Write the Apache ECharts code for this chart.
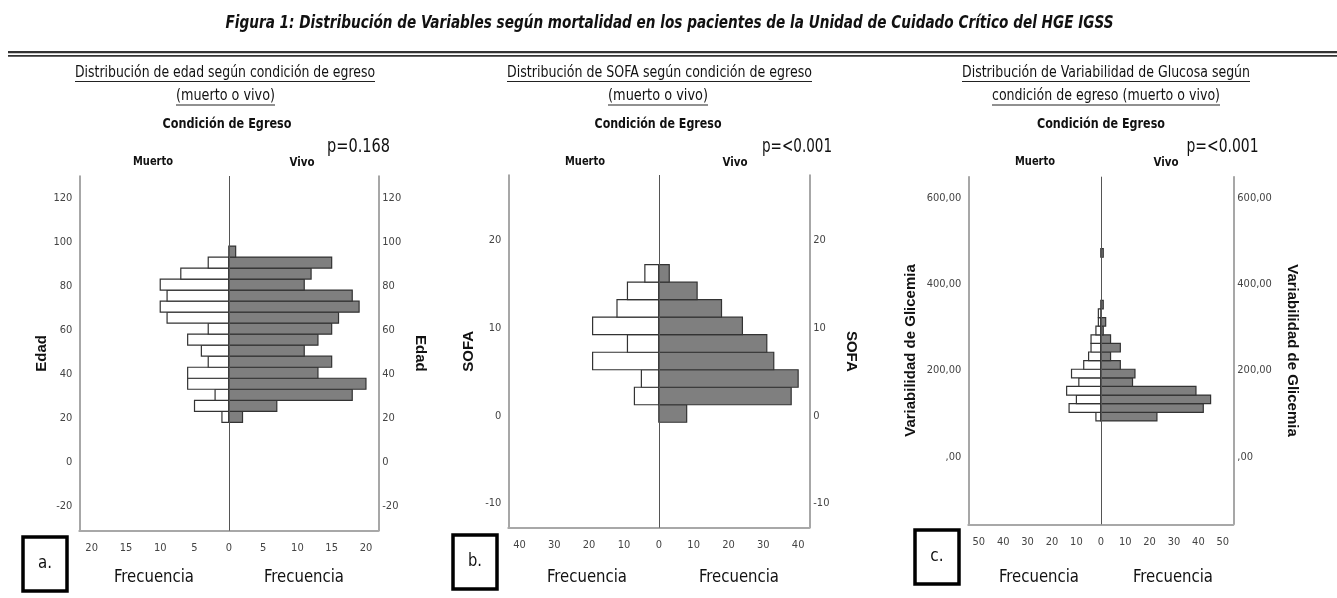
<!DOCTYPE html>
<html><head><meta charset="utf-8">
<script src="https://cdn.jsdelivr.net/npm/echarts@6/dist/echarts.min.js"></script>
<style>html,body{margin:0;padding:0;background:#fff}#c{width:1337px;height:598px}</style>
</head><body><div id="c"></div>
<script>
// ---------- DATA ----------
// Panel a: Edad (age) histogram, bin centres (years) and counts
const edadCenters = [20.7,25.7,30.7,35.7,40.7,45.7,50.7,55.7,60.7,65.7,70.7,75.7,80.7,85.7,90.7,95.7];
const edadMuerto  = [1,5,2,6,6,3,4,6,3,9,10,9,10,7,3,0];
const edadVivo    = [2,7,18,20,13,15,11,13,15,16,19,18,11,12,15,1];
const edadTicksY  = [-20,0,20,40,60,80,100,120];
const edadTicksX  = [-20,-15,-10,-5,0,5,10,15,20];

// Panel b: SOFA histogram
const sofaCenters = [0.25,2.25,4.25,6.25,8.25,10.25,12.25,14.25,16.25];
const sofaMuerto  = [0,7,5,19,9,19,12,9,4];
const sofaVivo    = [8,38,40,33,31,24,18,11,3];
const sofaTicksY  = [-10,0,10,20];
const sofaTicksX  = [-40,-30,-20,-10,0,10,20,30,40];

// Panel c: Variabilidad de Glicemia histogram
const glucCenters = [93,113,133,153,173,193,213,233,253,273,293,313,333,353,373,393,413,433,453,473];
const glucMuerto  = [2,13,10,14,9,12,7,5,4,4,2,1,1,0,0,0,0,0,0,0];
const glucVivo    = [23,42,45,39,13,14,8,4,8,4,1,2,0,1,0,0,0,0,0,1];
const glucTicksY  = [0,200,400,600];
const glucTicksX  = [-50,-40,-30,-20,-10,0,10,20,30,40,50];

// ---------- BUILD ----------
const NARROW = "'Liberation Sans Narrow','DejaVu Sans Condensed',sans-serif";
const SANS = "'Liberation Sans',Arial,sans-serif";

function barData(centers, muerto, vivo, w) {
  const out = [];
  centers.forEach((c, i) => {
    if (muerto[i] > 0) out.push([c - w / 2, c + w / 2, -muerto[i], 0]);
    if (vivo[i] > 0) out.push([c - w / 2, c + w / 2, vivo[i], 1]);
  });
  return out;
}
function renderBar(params, api) {
  const y0 = api.value(0), y1 = api.value(1), v = api.value(2), side = api.value(3);
  const a = api.coord([0, y0]), b = api.coord([v, y1]);
  return {
    type: 'rect',
    shape: { x: Math.min(a[0], b[0]), y: Math.min(a[1], b[1]), width: Math.abs(b[0] - a[0]), height: Math.abs(b[1] - a[1]) },
    style: { fill: side ? '#7f7f7f' : '#ffffff', stroke: '#333', lineWidth: 1.2 }
  };
}

const panels = [
  { grid: { left: 79.3, top: 176, width: 299, height: 354.7 }, xMax: 21.8, xTicks: edadTicksX, yMin: -31, yMax: 130, yTicks: edadTicksY,
    fmt: v => String(v), name: 'Edad', gapL: 30, gapR: 34, data: barData(edadCenters, edadMuerto, edadVivo, 5) },
  { grid: { left: 508.3, top: 175, width: 301, height: 352.7 }, xMax: 43.2, xTicks: sofaTicksX, yMin: -12.8, yMax: 27.5, yTicks: sofaTicksY,
    fmt: v => String(v), name: 'SOFA', gapL: 32, gapR: 34, data: barData(sofaCenters, sofaMuerto, sofaVivo, 2) },
  { grid: { left: 968.3, top: 176.7, width: 265, height: 347.6 }, xMax: 54.3, xTicks: glucTicksX, yMin: -157, yMax: 650, yTicks: glucTicksY,
    fmt: v => (v === 0 ? ',00' : v + ',00'), name: 'Variabilidad de Glicemia', gapL: 50, gapR: 51, data: barData(glucCenters, glucMuerto, glucVivo, 20) }
];

const grids = [], xAxes = [], yAxes = [], series = [];
panels.forEach((p, i) => {
  grids.push(Object.assign({ containLabel: false }, p.grid));
  xAxes.push({
    gridIndex: i, type: 'value', min: -p.xMax, max: p.xMax,
    axisLine: { show: true, onZero: false, lineStyle: { color: '#a8a8a8', width: 2 } },
    axisTick: { show: false }, splitLine: { show: false },
    axisLabel: { customValues: p.xTicks, formatter: v => String(Math.abs(v)), color: '#444', fontFamily: NARROW, fontSize: 11, margin: 12 }
  });
  const yBase = {
    gridIndex: i, type: 'value', min: p.yMin, max: p.yMax,
    axisLine: { show: true, onZero: false, lineStyle: { color: '#8a8a8a', width: 1.5 } },
    axisTick: { show: false }, splitLine: { show: false },
    name: p.name, nameLocation: 'middle',
    nameTextStyle: { fontFamily: SANS, fontWeight: 'bold', fontSize: 15, color: '#111' }
  };
  yAxes.push(Object.assign({}, yBase, { position: 'left', nameRotate: 90, nameGap: p.gapL,
    axisLabel: { customValues: p.yTicks, formatter: p.fmt, color: '#444', fontFamily: NARROW, fontSize: 11, margin: 7 } }));
  yAxes.push(Object.assign({}, yBase, { position: 'right', nameRotate: -90, nameGap: p.gapR,
    axisLabel: { customValues: p.yTicks, formatter: p.fmt, color: '#444', fontFamily: NARROW, fontSize: 11, margin: 4 } }));
  series.push({
    type: 'custom', xAxisIndex: i, yAxisIndex: 2 * i, renderItem: renderBar,
    encode: { x: 2, y: [0, 1] }, data: p.data, silent: true, animation: false,
    markLine: { silent: true, symbol: 'none', animation: false, label: { show: false },
      lineStyle: { color: '#555', width: 1, type: 'solid' }, data: [{ xAxis: 0 }] }
  });
});

// ---------- TEXT / DECORATION ----------
// Text is drawn at the reference's glyph size, then squeezed horizontally to the reference's width
const mctx = document.createElement('canvas').getContext('2d');
const g = [];
function txt(x, y, s, style, size, w) {
  const font = style + ' ' + size + 'px ' + NARROW;
  mctx.font = font;
  const sx = Math.min(1, w / mctx.measureText(s).width);
  g.push({ type: 'text', x: x, y: y, scaleX: sx, silent: true,
    style: { x: 0, y: 0, text: s, font: font, fill: '#111', align: 'center', verticalAlign: 'middle' } });
}
function line(x1, y1, x2, y2, w, c) {
  g.push({ type: 'line', silent: true, shape: { x1, y1, x2, y2 }, style: { stroke: c || '#222', lineWidth: w } });
}
txt(669.5, 24, 'Figura 1: Distribución de Variables según mortalidad en los pacientes de la Unidad de Cuidado Crítico del HGE IGSS',
  'italic bold', 17, 888);
line(8, 52.2, 1337, 52.2, 2.3, '#333');
line(8, 55.8, 1337, 55.8, 1.8, '#333');

const heads = [
  { l1: 'Distribución de edad según condición de egreso', l2: '(muerto o vivo)', u1: [75, 375], u2: [176, 275],
    cond: [227, 129], muerto: 153, vivo: 302, p: 'p=0.168', pp: [358.5, 63], box: [23, 537], lab: 'a.', frec: [154, 304] },
  { l1: 'Distribución de SOFA según condición de egreso', l2: '(muerto o vivo)', u1: [507, 812], u2: [608, 708],
    cond: [658, 127], muerto: 585, vivo: 735, p: 'p=<0.001', pp: [797, 70], box: [453, 535], lab: 'b.', frec: [587, 739] },
  { l1: 'Distribución de Variabilidad de Glucosa según', l2: 'condición de egreso (muerto o vivo)', u1: [962, 1250], u2: [992, 1220],
    cond: [1101, 128], muerto: 1035, vivo: 1166, p: 'p=<0.001', pp: [1222.5, 72], box: [915, 530], lab: 'c.', frec: [1039, 1173] }
];
heads.forEach(h => {
  txt((h.u1[0] + h.u1[1]) / 2, 73, h.l1, 'normal', 15, h.u1[1] - h.u1[0]);
  txt((h.u2[0] + h.u2[1]) / 2, 96.5, h.l2, 'normal', 15, h.u2[1] - h.u2[0]);
  line(h.u1[0], 81.5, h.u1[1], 81.5, 1, '#222');
  line(h.u2[0], 105, h.u2[1], 105, 1, '#222');
  txt(h.cond[0], 124, 'Condición de Egreso', 'bold', 14, h.cond[1]);
  txt(h.muerto, 162, 'Muerto', 'bold', 12.5, 40);
  txt(h.vivo, 163, 'Vivo', 'bold', 12.5, 25);
  txt(h.pp[0], 147, h.p, 'normal', 19, h.pp[1]);
  g.push({ type: 'rect', silent: true, shape: { x: h.box[0], y: h.box[1], width: 44, height: 54 }, style: { fill: '#fff', stroke: '#000', lineWidth: 3.5 } });
  txt(h.box[0] + 22, h.box[1] + 27, h.lab, 'normal', 17, 14);
  txt(h.frec[0], 578, 'Frecuencia', 'normal', 17, 80);
  txt(h.frec[1], 578, 'Frecuencia', 'normal', 17, 80);
});

const chart = echarts.init(document.getElementById('c'), null, { renderer: 'canvas' });
chart.setOption({
  animation: false,
  backgroundColor: '#fff',
  grid: grids, xAxis: xAxes, yAxis: yAxes, series: series, graphic: g
});
</script></body></html>
